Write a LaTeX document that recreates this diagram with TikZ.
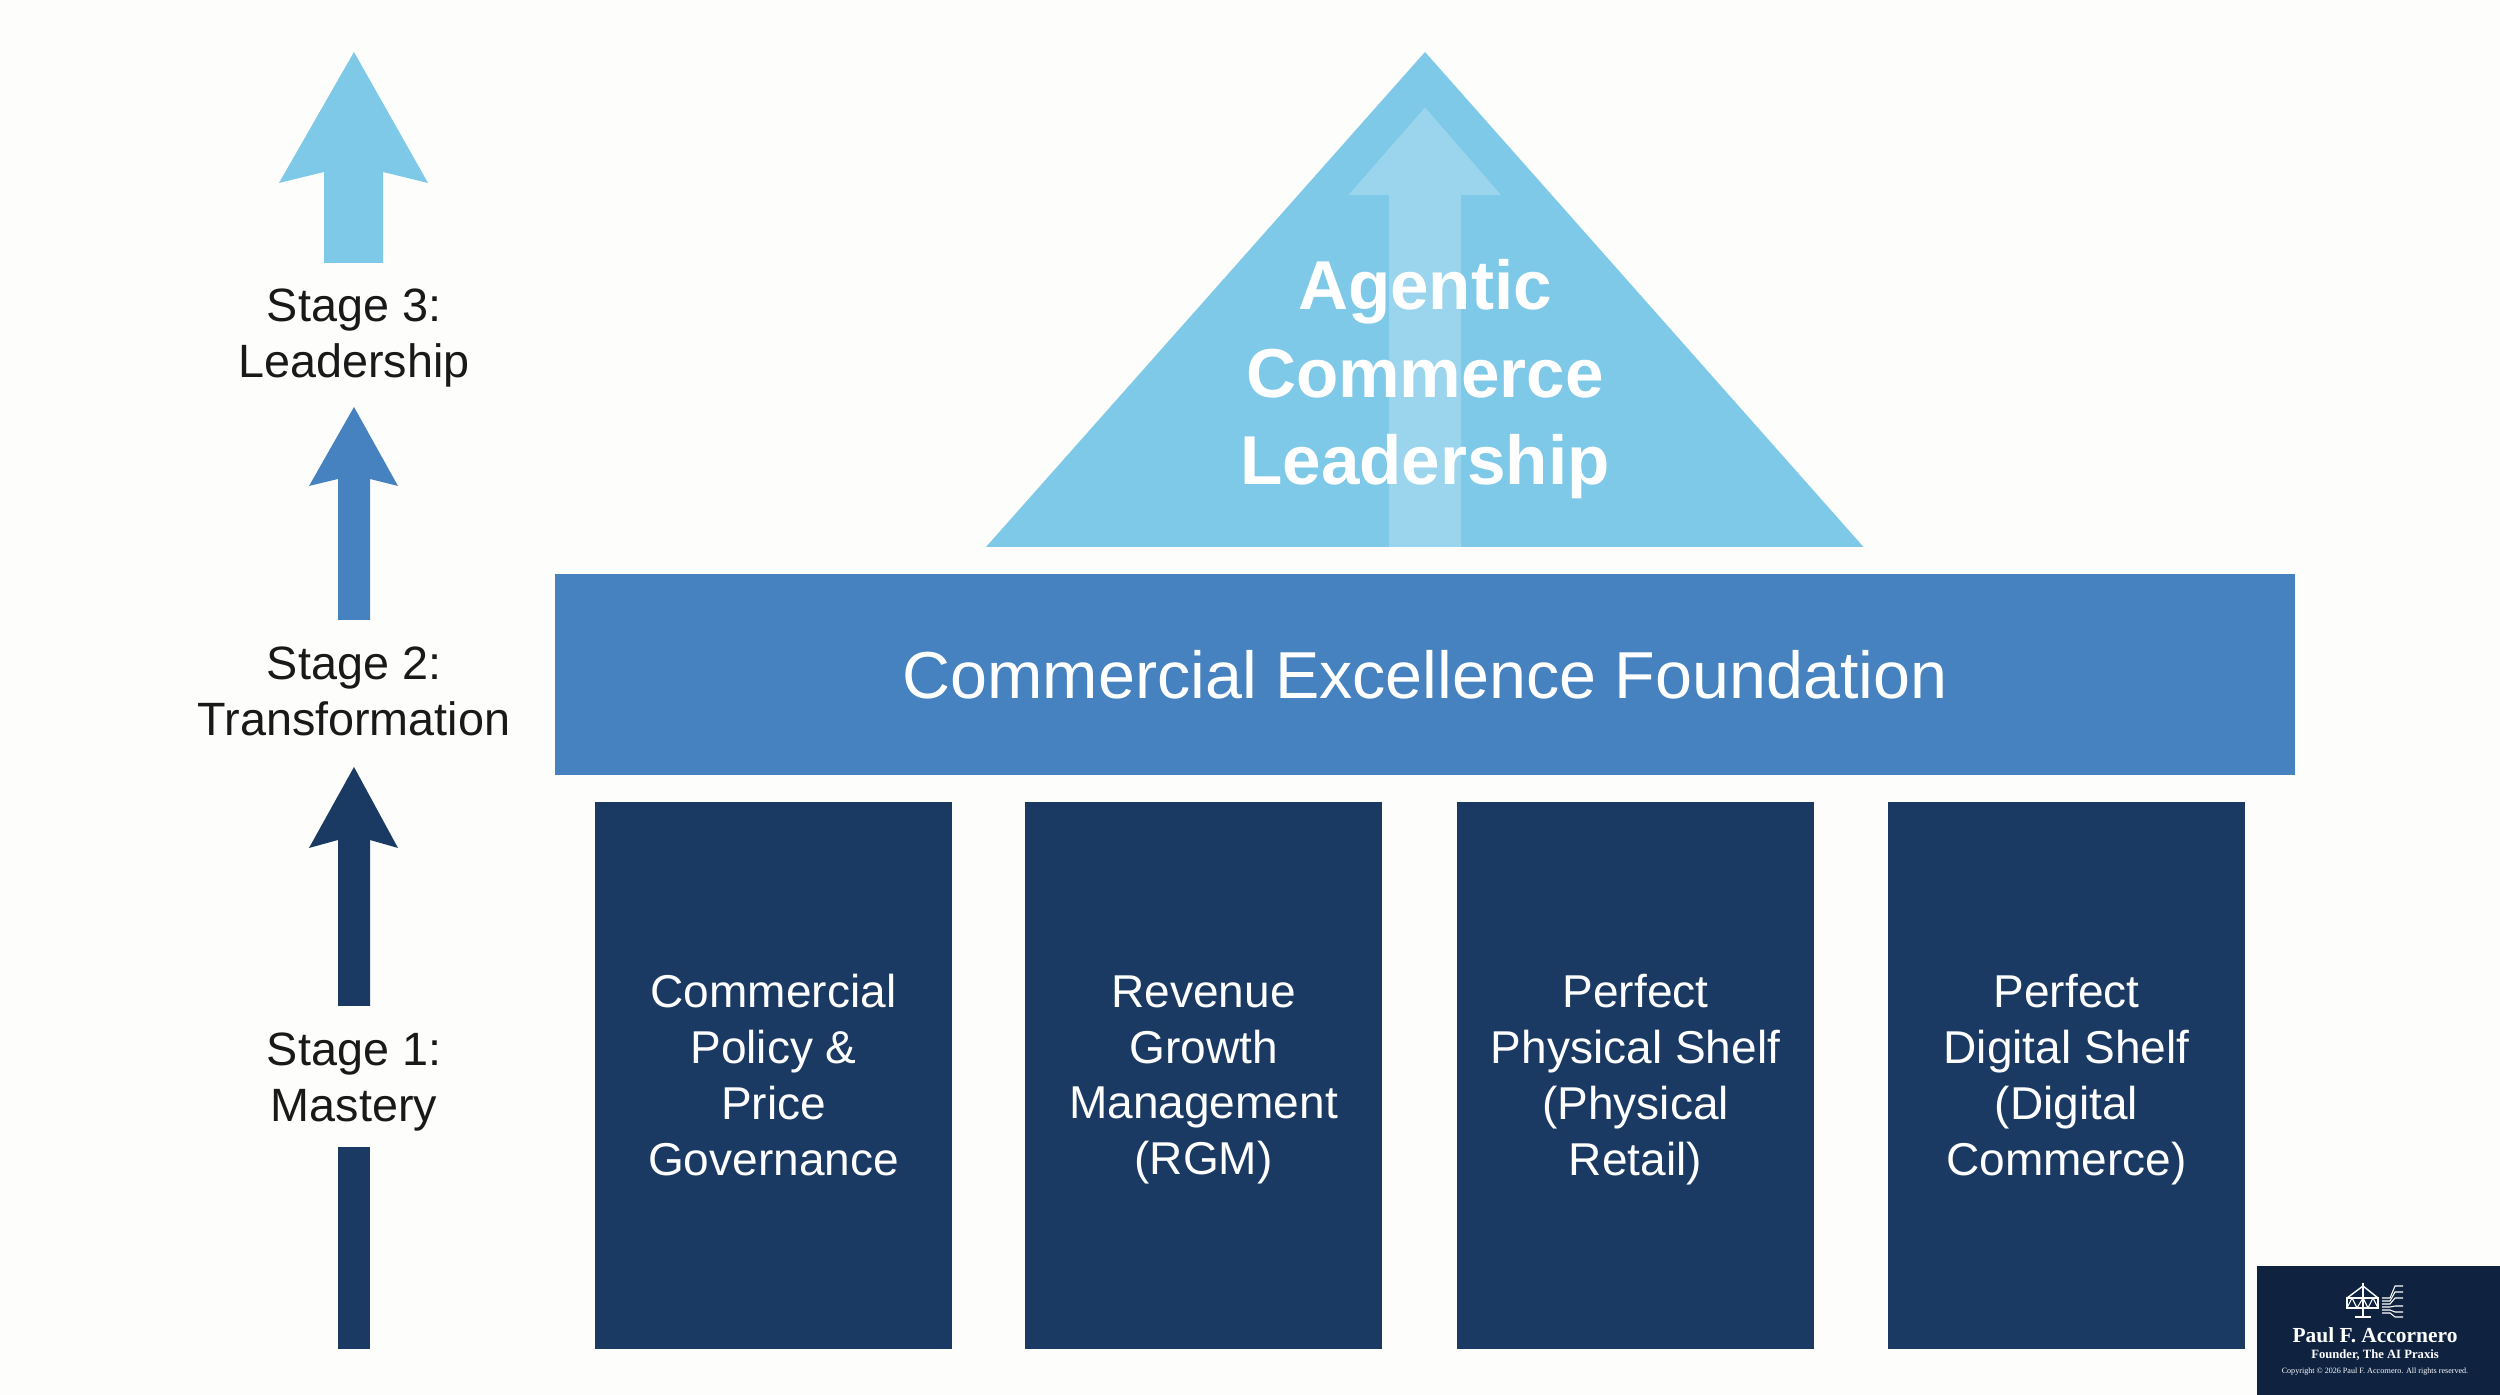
\documentclass[tikz,border=0pt]{standalone}
\usepackage{fontspec}
\setmainfont{Liberation Sans}
\newfontfamily\logofont{Liberation Serif}
\definecolor{skyblue}{HTML}{7EC8E8}
\definecolor{midblue}{HTML}{4682C0}
\definecolor{navyblue}{HTML}{1B3A63}
\definecolor{logoblue}{HTML}{0F2341}
\definecolor{paper}{HTML}{FDFEFC}
\tikzset{
  stagelabel/.style={align=center,text=black!90,font=\fontsize{13.3}{15.9}\selectfont,
    execute at begin node=\strut,execute at end node=\strut},
  pillar/.style={fill=navyblue,minimum width=3.57cm,minimum height=5.47cm,inner sep=0pt},
  pillartext/.style={align=center,text=white,yshift=-0.08cm,font=\fontsize{13.1}{15.9}\selectfont,
    execute at begin node=\strut,execute at end node=\strut},
  logotext/.style={text=white,inner sep=0pt}
}
\begin{document}
\begin{tikzpicture}
    \useasboundingbox[fill=paper] (0,0) rectangle (25,13.95);
    % Stage arrows
    \fill[skyblue] (3.54,13.43) -- (4.28,12.12) -- (3.83,12.23) -- (3.83,11.32) -- (3.24,11.32) -- (3.24,12.23) -- (2.79,12.12) -- cycle;
    \fill[midblue] (3.54,9.88) -- (3.98,9.09) -- (3.70,9.16) -- (3.70,7.75) -- (3.38,7.75) -- (3.38,9.16) -- (3.09,9.09) -- cycle;
    \fill[navyblue] (3.54,6.28) -- (3.98,5.47) -- (3.70,5.55) -- (3.70,3.89) -- (3.38,3.89) -- (3.38,5.55) -- (3.09,5.47) -- cycle;
    \fill[navyblue] (3.38,2.48) rectangle (3.70,0.46);
    % Stage labels
    \node[stagelabel] (stagethree) at (3.54,10.53) {Stage 3:\\Leadership};
    \node[stagelabel] (stagetwo) at (3.54,6.95) {Stage 2:\\Transformation};
    \node[stagelabel] (stageone) at (3.54,3.09) {Stage 1:\\Mastery};
    % Roof
    \fill[skyblue] (14.25,13.43) -- (18.635,8.48) -- (9.86,8.48) -- cycle;
    \fill[white,opacity=0.22] (14.25,12.875) -- (15.01,12.0) -- (14.61,12.0) -- (14.61,8.48) -- (13.89,8.48) -- (13.89,12.0) -- (13.485,12.0) -- cycle;
    \node[align=center,text=white,font=\fontsize{19.7}{24.9}\selectfont\bfseries] (roof) at (14.25,10.155) {Agentic\\Commerce\\Leadership};
    % Foundation band
    \node[fill=midblue,minimum width=17.4cm,minimum height=2.01cm,inner sep=0pt,text=white,font=\fontsize{18.9}{24}\selectfont] (band) at (14.25,7.205) {Commercial Excellence Foundation};
    % Pillars
    \node[pillar] (pillarone) at (7.735,3.195) {};
    \node[pillar] (pillartwo) at (12.035,3.195) {};
    \node[pillar] (pillarthree) at (16.355,3.195) {};
    \node[pillar] (pillarfour) at (20.665,3.195) {};
    \node[pillartext] (textone) at (pillarone) {Commercial\\Policy \&\\Price\\Governance};
    \node[pillartext] (texttwo) at (pillartwo) {Revenue\\Growth\\Management\\(RGM)};
    \node[pillartext] (textthree) at (pillarthree) {Perfect\\Physical Shelf\\(Physical\\Retail)};
    \node[pillartext] (textfour) at (pillarfour) {Perfect\\Digital Shelf\\(Digital\\Commerce)};
    % Logo box
    \fill[logoblue] (22.57,0) rectangle (25,1.29);
    \draw[white,line width=0.5pt] (23.63,1.12) -- (23.63,0.78);
    \draw[white,line width=0.5pt] (23.55,0.78) -- (23.71,0.78);
    \draw[white,line width=0.4pt] (23.47,0.87) rectangle (23.78,0.97);
    \draw[white,line width=0.4pt] (23.47,0.97) -- (23.63,1.09) -- (23.78,0.97);
    \draw[white,line width=0.3pt] (23.47,0.87) -- (23.52,0.97) -- (23.57,0.87) -- (23.63,0.97) -- (23.68,0.87) -- (23.73,0.97) -- (23.78,0.87);
    \foreach \y/\z in {0.97/1.09,0.94/1.03,0.91/0.97,0.88/0.89,0.85/0.83,0.82/0.78}
      \draw[white,line width=0.3pt] (23.82,\y) -- (23.90,\y) -- (23.95,\z) -- (24.03,\z);
    \node[logotext,font=\logofont\fontsize{6.1}{8}\selectfont\bfseries] (logoname) at (23.75,0.60) {Paul F. Accornero};
    \node[logotext,font=\logofont\fontsize{3.6}{5}\selectfont\bfseries] (logorole) at (23.75,0.40) {Founder, The AI Praxis};
    \node[logotext,font=\logofont\fontsize{2.3}{4}\selectfont] (logocopy) at (23.75,0.23) {Copyright © 2026 Paul F. Accornero. All rights reserved.};
\end{tikzpicture}
\end{document}
